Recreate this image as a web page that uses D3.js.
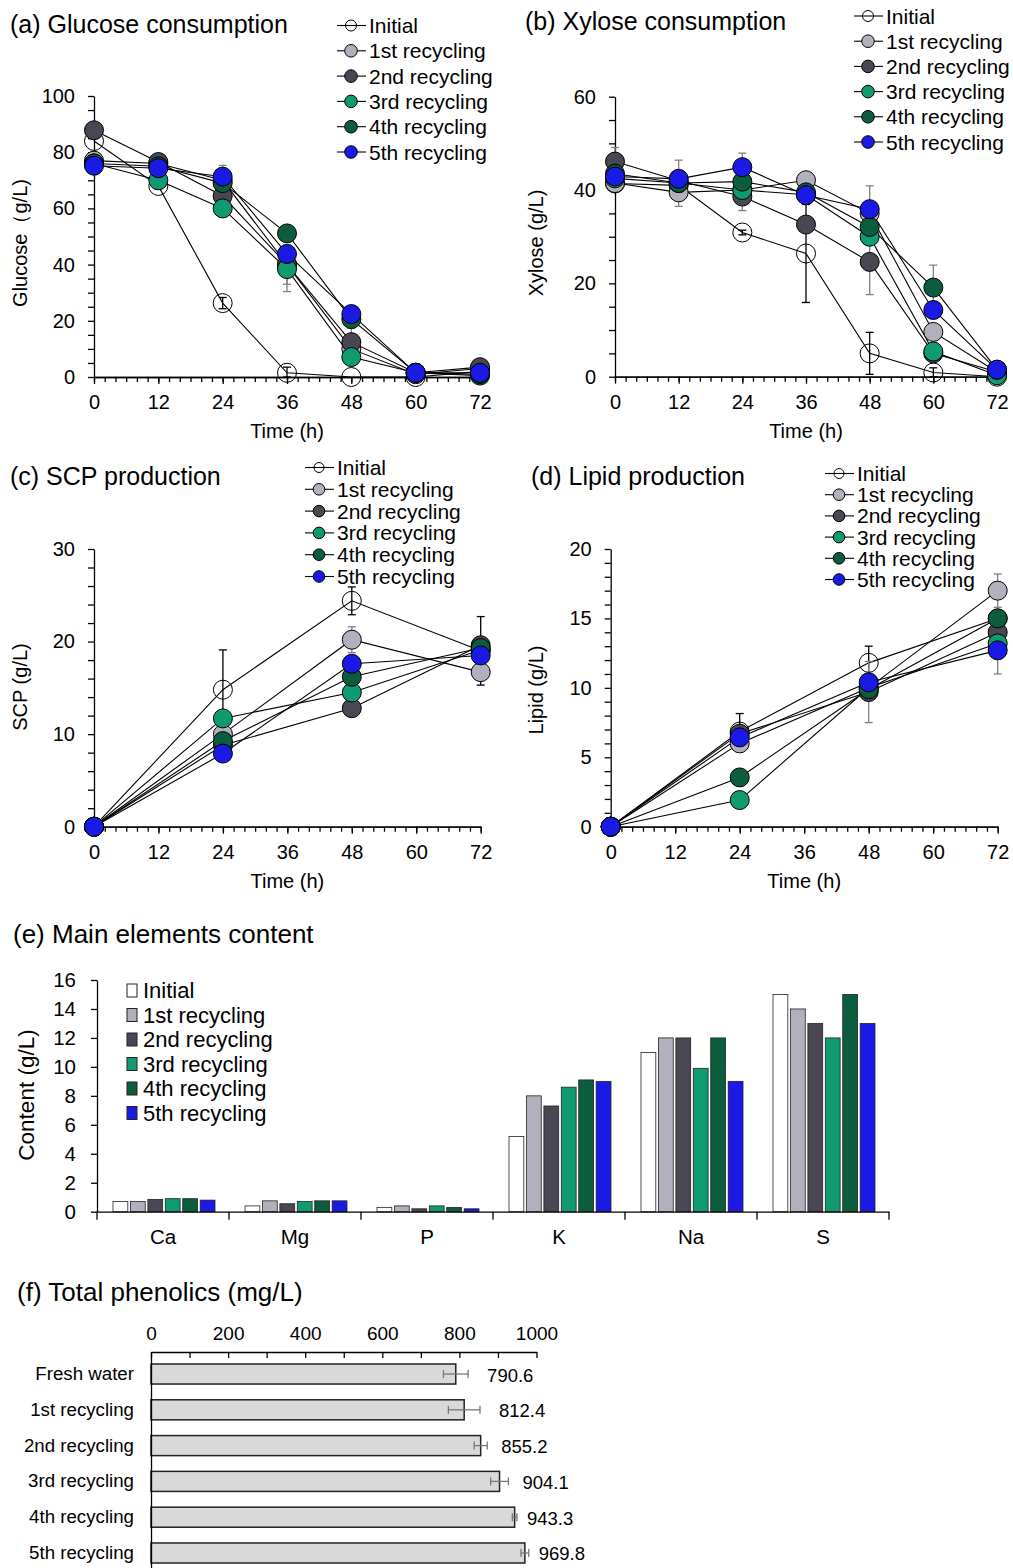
<!DOCTYPE html>
<html>
<head>
<meta charset="utf-8">
<script src="https://cdn.jsdelivr.net/npm/d3@7"></script>
<style>
  body { margin: 0; background: #fff; }
  svg text { font-family: "Liberation Sans", Arial, sans-serif; fill: #000; }
</style>
</head>
<body>
<script>
// ---- data ----
var seriesNames = ["Initial", "1st recycling", "2nd recycling", "3rd recycling", "4th recycling", "5th recycling"];
var seriesFill = ["none", "#b3afbd", "#4a4654", "#0f9b6f", "#0b5d3d", "#1a1ae4"];

var hoursAB = [0, 12, 24, 36, 48, 60, 72];
var hoursCD = [0, 24, 48, 72];
var hourTicks = [0, 12, 24, 36, 48, 60, 72];

var glucose = [
  [84, 68, 26.3, 1.5, 0, 0, 2],
  [77, 76, 70, 40, 10, 1, 3],
  [87.8, 76.5, 64.4, 40, 12.4, 1.5, 3.5],
  [76, 70, 60, 38.4, 7.1, 1.5, 0.5],
  [76, 75, 69, 51.1, 20.6, 1.5, 1],
  [75.2, 74.3, 71.3, 43.8, 22.4, 1.5, 1.5]
];
var glucoseErr = [
  [0, 1, 2, 2, 0, 0, 0],
  [0, 0, 0, 7, 0, 0, 0],
  [0, 0, 0, 0, 5, 0, 0],
  [0, 0, 0, 8, 0, 0, 0],
  [0, 0, 0, 0, 0, 0, 0],
  [0, 0, 4, 0, 0, 0, 0]
];

var xylose = [
  [41.4, 41, 30.9, 26.4, 5, 0.9, 0],
  [41.5, 39.5, 40, 42.1, 35, 9.6, 1],
  [46.1, 42, 38.6, 32.6, 24.6, 5, 1],
  [42.5, 41.5, 40, 39, 30, 5.4, 0.3],
  [43.5, 41.5, 41.8, 39.5, 32.1, 19.1, 1.5],
  [42.9, 42.4, 44.9, 38.9, 35.9, 14.3, 1.5]
];
var xyloseErr = [
  [0, 0, 0.5, 10.5, 4.5, 1, 0],
  [0, 3, 0, 0, 0, 0, 0],
  [3, 0, 3, 0, 7, 0, 0],
  [0, 0, 0, 0, 0, 0, 0],
  [0, 0, 0, 0, 0, 4.8, 0],
  [0, 4, 3, 0, 5, 0, 0]
];

var scp = [
  [0, 14.8, 24.4, 19],
  [0, 10, 20.2, 16.7],
  [0, 8.8, 12.8, 19.6],
  [0, 11.7, 14.5, 19.1],
  [0, 9.25, 16.2, 19.3],
  [0, 7.9, 17.6, 18.5]
];
var scpErr = [
  [0, 4.3, 1.5, 3.7],
  [0, 0, 1.4, 0],
  [0, 0, 0, 0],
  [0, 0, 0, 0],
  [0, 0, 0, 0],
  [0, 0, 0, 0]
];

var lipid = [
  [0, 6.85, 11.8, 15],
  [0, 6.0, 10, 17.0],
  [0, 6.7, 9.7, 14.0],
  [0, 1.92, 10, 13.2],
  [0, 3.55, 9.9, 15.0],
  [0, 6.43, 10.4, 12.7]
];
var lipidErr = [
  [0, 1.3, 1.2, 0],
  [0, 0, 0, 1.2],
  [0, 0, 2.2, 0],
  [0, 0, 0, 0],
  [0, 0, 0, 0],
  [0, 0, 0, 1.7]
];

var elements = ["Ca", "Mg", "P", "K", "Na", "S"];
var elementContent = [
  [0.7, 0.4, 0.3, 5.2, 11, 15],
  [0.7, 0.75, 0.4, 8.0, 12, 14],
  [0.85, 0.55, 0.2, 7.3, 12, 13],
  [0.9, 0.7, 0.4, 8.6, 9.9, 12],
  [0.9, 0.75, 0.3, 9.1, 12, 15],
  [0.8, 0.75, 0.2, 9.0, 9.0, 13]
];

var phenolicGroups = ["Fresh water", "1st recycling", "2nd recycling", "3rd recycling", "4th recycling", "5th recycling"];
var phenolics = [790.6, 812.4, 855.2, 904.1, 943.3, 969.8];
var phenolicsErr = [32, 41, 17, 23, 6, 10];

// ---- drawing ----
var FONT = "Liberation Sans, Arial, sans-serif";
var svg = d3.select("body").append("svg")
  .attr("width", 1013)
  .attr("height", 1568);

function styleAxis(g, size) {
  g.attr("font-family", FONT).attr("font-size", size || 20);
  g.selectAll("path, line").attr("stroke", "#000").attr("stroke-width", 1.3);
  g.selectAll("text").attr("fill", "#000");
}

function text(x, y, s, size, anchor) {
  return svg.append("text")
    .attr("x", x).attr("y", y)
    .attr("font-size", size)
    .attr("text-anchor", anchor || "start")
    .attr("dominant-baseline", "central")
    .text(s);
}

function linePanel(p, times, values, errs) {
  var x = d3.scaleLinear().domain([0, 72]).range([p.left, p.right]);
  var y = d3.scaleLinear().domain([0, p.yMax]).range([p.bottom, p.top]);
  var g = svg.append("g");

  // x axis: minor ticks every 2 h, labelled every 12 h
  g.append("g").attr("transform", "translate(0," + p.bottom + ")")
    .call(d3.axisBottom(x).tickValues(d3.range(0, 73, 2)).tickSize(5).tickSizeOuter(0).tickFormat(""))
    .call(styleAxis);
  g.append("g").attr("transform", "translate(0," + p.bottom + ")")
    .call(d3.axisBottom(x).tickValues(hourTicks).tickSize(7).tickSizeOuter(0).tickPadding(11))
    .call(styleAxis);

  g.append("g").attr("transform", "translate(" + p.left + ",0)")
    .call(d3.axisLeft(y)
      .tickValues(d3.range(0, p.yMax + 0.001, p.yMinor))
      .tickSize(6).tickSizeOuter(0).tickPadding(13)
      .tickFormat(function(d) { return Math.abs(d % p.yMajor) < 1e-6 ? d : ""; }))
    .call(styleAxis);

  var line = d3.line()
    .x(function(d) { return x(d[0]); })
    .y(function(d) { return y(d[1]); });

  values.forEach(function(row) {
    g.append("path")
      .datum(times.map(function(t, j) { return [t, row[j]]; }))
      .attr("d", line)
      .attr("fill", "none")
      .attr("stroke", "#000")
      .attr("stroke-width", 1.1);
  });

  // error bars
  errs.forEach(function(row, i) {
    var col = i === 0 ? "#000" : "#7f7f7f";
    row.forEach(function(e, j) {
      if (!e) return;
      var cx = x(times[j]), v = values[i][j];
      var y1 = y(Math.max(0, v - e)), y2 = y(v + e);
      g.append("line").attr("x1", cx).attr("x2", cx).attr("y1", y1).attr("y2", y2)
        .attr("stroke", col).attr("stroke-width", 1.3);
      [y1, y2].forEach(function(yy) {
        g.append("line").attr("x1", cx - 4).attr("x2", cx + 4).attr("y1", yy).attr("y2", yy)
          .attr("stroke", col).attr("stroke-width", 1.3);
      });
    });
  });

  values.forEach(function(row, i) {
    g.selectAll(null)
      .data(row)
      .enter()
      .append("circle")
      .attr("cx", function(d, j) { return x(times[j]); })
      .attr("cy", function(d) { return y(d); })
      .attr("r", 9.5)
      .attr("fill", seriesFill[i])
      .attr("stroke", "#000")
      .attr("stroke-width", 1);
  });

  // labels
  text(p.titleX, p.titleY, p.title, 25);
  text((p.left + p.right) / 2, p.bottom + 54, "Time (h)", 20, "middle");
  svg.append("text")
    .attr("transform", "translate(" + p.ylabX + "," + p.ylabY + ") rotate(-90)")
    .attr("font-size", 20)
    .attr("text-anchor", "middle")
    .attr("dominant-baseline", "central")
    .text(p.ylab);

  // legend
  var L = p.legend;
  seriesNames.forEach(function(name, i) {
    var ly = L.y + i * L.dy;
    svg.append("line").attr("x1", L.x).attr("x2", L.x + 29).attr("y1", ly).attr("y2", ly)
      .attr("stroke", "#000").attr("stroke-width", 1.1);
    svg.append("circle").attr("cx", L.x + 14).attr("cy", ly).attr("r", i === 0 ? L.r - 0.8 : L.r)
      .attr("fill", seriesFill[i]).attr("stroke", "#000").attr("stroke-width", 1);
    text(L.x + 32, ly, name, 21);
  });
}

linePanel({
  left: 94, right: 480, top: 96, bottom: 377, yMax: 100, yMinor: 5, yMajor: 20,
  title: "(a) Glucose consumption", titleX: 10, titleY: 24,
  ylab: "Glucose\uFF08g/L)", ylabX: 20, ylabY: 243,
  legend: { x: 337, y: 25.5, dy: 25.3, r: 6.3 }
}, hoursAB, glucose, glucoseErr);

linePanel({
  left: 615, right: 997, top: 96.7, bottom: 376.7, yMax: 60, yMinor: 5, yMajor: 20,
  title: "(b) Xylose consumption", titleX: 525, titleY: 21,
  ylab: "Xylose (g/L)", ylabX: 536, ylabY: 243,
  legend: { x: 854, y: 16, dy: 25.2, r: 6.3 }
}, hoursAB, xylose, xyloseErr);

linePanel({
  left: 94, right: 480.7, top: 549, bottom: 826.7, yMax: 30, yMinor: 2, yMajor: 10,
  title: "(c) SCP production", titleX: 10, titleY: 476,
  ylab: "SCP (g/L)", ylabX: 20, ylabY: 687,
  legend: { x: 305, y: 467.5, dy: 21.8, r: 5.8 }
}, hoursCD, scp, scpErr);

linePanel({
  left: 610.7, right: 997.7, top: 549, bottom: 826.7, yMax: 20, yMinor: 1, yMajor: 5,
  title: "(d) Lipid production", titleX: 531, titleY: 476,
  ylab: "Lipid (g/L)", ylabX: 536, ylabY: 690,
  legend: { x: 825, y: 473.5, dy: 21.2, r: 5.8 }
}, hoursCD, lipid, lipidErr);

// ---- (e) element bars ----
(function() {
  var xE = d3.scaleBand().domain(elements).range([97, 889]);
  var xS = d3.scaleBand().domain(d3.range(seriesNames.length)).range([16, 118]).paddingInner(0.15);
  var yE = d3.scaleLinear().domain([0, 16]).range([1211.7, 980]);
  var g = svg.append("g");

  elements.forEach(function(el, k) {
    g.selectAll(null)
      .data(elementContent.map(function(row) { return row[k]; }))
      .enter()
      .append("rect")
      .attr("x", function(d, i) { return xE(el) + xS(i); })
      .attr("y", function(d) { return yE(d); })
      .attr("width", xS.bandwidth())
      .attr("height", function(d) { return yE(0) - yE(d); })
      .attr("fill", function(d, i) { return i === 0 ? "#fff" : seriesFill[i]; })
      .attr("stroke", "#222")
      .attr("stroke-width", 0.8);
  });

  g.append("g").attr("transform", "translate(0," + yE(0) + ")")
    .call(d3.axisBottom(xE).tickSize(0).tickPadding(18))
    .call(styleAxis, 20.5);
  g.selectAll(null)
    .data(elements.map(function(e) { return xE(e); }).concat([xE.range()[1]]))
    .enter()
    .append("line")
    .attr("x1", function(d) { return d; }).attr("x2", function(d) { return d; })
    .attr("y1", yE(0)).attr("y2", yE(0) + 8)
    .attr("stroke", "#000").attr("stroke-width", 1.3);

  g.append("g").attr("transform", "translate(97,0)")
    .call(d3.axisLeft(yE).tickValues(d3.range(0, 17, 2)).tickSize(6).tickSizeOuter(0).tickPadding(15))
    .call(styleAxis, 20.5);

  text(13, 934, "(e) Main elements content", 26);
  svg.append("text")
    .attr("transform", "translate(26,1095) rotate(-90)")
    .attr("font-size", 22.5)
    .attr("text-anchor", "middle")
    .attr("dominant-baseline", "central")
    .text("Content (g/L)");

  seriesNames.forEach(function(name, i) {
    var ly = 990.5 + i * 24.5;
    svg.append("rect").attr("x", 127).attr("y", ly - 6.5).attr("width", 10).attr("height", 13)
      .attr("fill", i === 0 ? "#fff" : seriesFill[i]).attr("stroke", "#222").attr("stroke-width", 1);
    text(143, ly, name, 22);
  });
})();

// ---- (f) total phenolics ----
(function() {
  var xF = d3.scaleLinear().domain([0, 1000]).range([151, 536.5]);
  var yF = d3.scaleBand().domain(phenolicGroups).range([1352, 1575]).paddingInner(0.44).paddingOuter(0.335);
  var g = svg.append("g");

  g.selectAll("rect")
    .data(phenolics)
    .enter()
    .append("rect")
    .attr("x", xF(0))
    .attr("y", function(d, i) { return yF(phenolicGroups[i]); })
    .attr("width", function(d) { return xF(d) - xF(0); })
    .attr("height", yF.bandwidth())
    .attr("fill", "#d9d9d9")
    .attr("stroke", "#222")
    .attr("stroke-width", 1.5);

  phenolics.forEach(function(v, i) {
    var cy = yF(phenolicGroups[i]) + yF.bandwidth() / 2;
    var e = phenolicsErr[i];
    var x1 = xF(v - e), x2 = xF(v + e);
    g.append("line").attr("x1", x1).attr("x2", x2).attr("y1", cy).attr("y2", cy)
      .attr("stroke", "#777").attr("stroke-width", 1.3);
    [x1, x2].forEach(function(xx) {
      g.append("line").attr("x1", xx).attr("x2", xx).attr("y1", cy - 4).attr("y2", cy + 4)
        .attr("stroke", "#777").attr("stroke-width", 1.3);
    });
    text(x2 + 14 + (i < 2 ? 5 : 0) - (i > 3 ? 4 : 0), cy + 1, d3.format(".1f")(v), 18.5);
  });

  g.append("g").attr("transform", "translate(0,1352)")
    .call(d3.axisTop(xF).tickValues(d3.range(0, 1001, 100))
      .tickSizeInner(-6).tickSizeOuter(0).tickPadding(12)
      .tickFormat(function(d) { return d % 200 === 0 ? d : ""; }))
    .call(styleAxis, 19);
  g.append("g").attr("transform", "translate(151,0)")
    .call(d3.axisLeft(yF).tickSize(0).tickPadding(17))
    .call(styleAxis, 18.7);

  text(17, 1292, "(f) Total phenolics (mg/L)", 26);
})();
</script>
</body>
</html>
